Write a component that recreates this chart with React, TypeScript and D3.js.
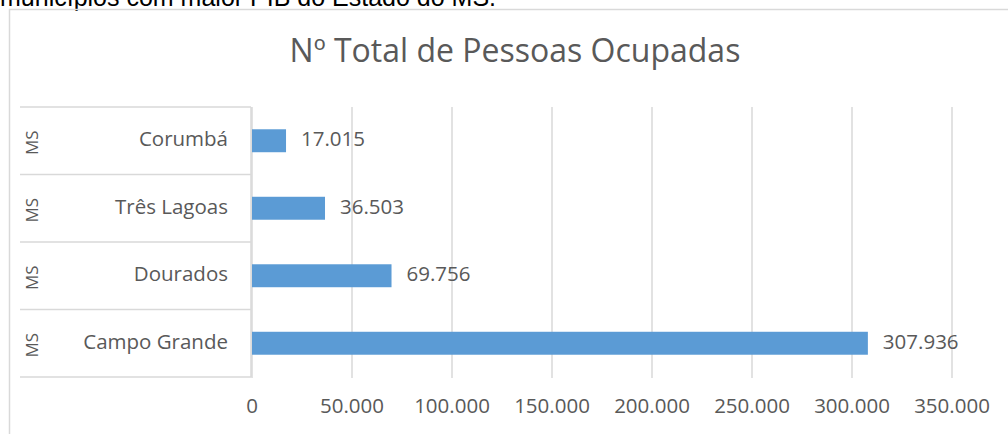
import React from 'react';
import * as d3 from 'd3';

const W = 1008;
const H = 434;

const cities = ['Corumbá', 'Três Lagoas', 'Dourados', 'Campo Grande'];
const states = ['MS', 'MS', 'MS', 'MS'];
const ocupadas = [17015, 36503, 69756, 307936];
const ticks = [0, 50000, 100000, 150000, 200000, 250000, 300000, 350000];

const TITLE = 'Nº Total de Pessoas Ocupadas';
const CAPTION = 'municípios com maior PIB do Estado do MS.';

const FONT = '"Open Sans", "Noto Sans", sans-serif';
const GREY = '#595959';
const LINE = '#d9d9d9';
const BAR = '#5b9bd5';

// pt formatting: 17.015
const fmt = (v: number) => d3.format(',')(v).replace(/,/g, '.');

const App: React.FC = () => {
  const x = d3.scaleLinear().domain([0, 350000]).range([252, 952]);
  const y = d3
    .scaleBand<string>()
    .domain(cities)
    .range([107, 377])
    .paddingInner(0.66)
    .paddingOuter(0.33);

  const step = y.step();
  const boundaries = cities.map((c) => (y(c) as number) - (step - y.bandwidth()) / 2);
  boundaries.push(377);

  return (
    <svg
      width={W}
      height={H}
      style={{ position: 'absolute', left: 0, top: 0, background: '#fff' }}
    >
      <rect width={W} height={H} fill="#fff" />
      {/* caption from the page above, cut by the screenshot */}
      <text x={0} y={6} fontFamily='Arial, "Liberation Sans", sans-serif' fontSize={25} fill="#000">
        {CAPTION}
      </text>

      {/* chart frame */}
      <rect x={9.5} y={9.5} width={W + 20} height={H + 20} fill="none" stroke={LINE} strokeWidth={1.5} />

      <text
        x={515}
        y={62}
        textAnchor="middle"
        fontFamily={FONT}
        fontSize={32}
        fill={GREY}
      >
        {TITLE}
      </text>

      {/* gridlines */}
      {ticks.map((t) => (
        <line key={t} x1={x(t)} x2={x(t)} y1={107} y2={378} stroke={LINE} strokeWidth={1.5} />
      ))}

      {/* category box */}
      {boundaries.map((b, i) => (
        <line key={i} x1={20} x2={251} y1={b} y2={b} stroke={LINE} strokeWidth={1.5} />
      ))}
      <line x1={251} x2={251} y1={107} y2={377} stroke={LINE} strokeWidth={1.5} />

      {cities.map((c, i) => {
        const cy = (y(c) as number) + y.bandwidth() / 2;
        return (
          <g key={c}>
            <text
              x={228}
              y={cy}
              textAnchor="end"
              dominantBaseline="middle"
              fontFamily={FONT}
              fontSize={20.5}
              fill={GREY}
            >
              {c}
            </text>
            <text
              transform={`translate(33,${cy + 2}) rotate(-90)`}
              textAnchor="middle"
              dominantBaseline="middle"
              fontFamily={FONT}
              fontSize={17}
              fill={GREY}
            >
              {states[i]}
            </text>
            <rect
              x={x(0)}
              y={y(c)}
              width={x(ocupadas[i]) - x(0)}
              height={y.bandwidth()}
              fill={BAR}
            />
            <text
              x={x(ocupadas[i]) + 15}
              y={cy}
              dominantBaseline="middle"
              fontFamily={FONT}
              fontSize={20.5}
              fill={GREY}
            >
              {fmt(ocupadas[i])}
            </text>
          </g>
        );
      })}

      {/* x tick labels */}
      {ticks.map((t) => (
        <text
          key={t}
          x={x(t)}
          y={408}
          textAnchor="middle"
          dominantBaseline="middle"
          fontFamily={FONT}
          fontSize={20.5}
          fill={GREY}
        >
          {fmt(t)}
        </text>
      ))}
    </svg>
  );
};

export default App;
